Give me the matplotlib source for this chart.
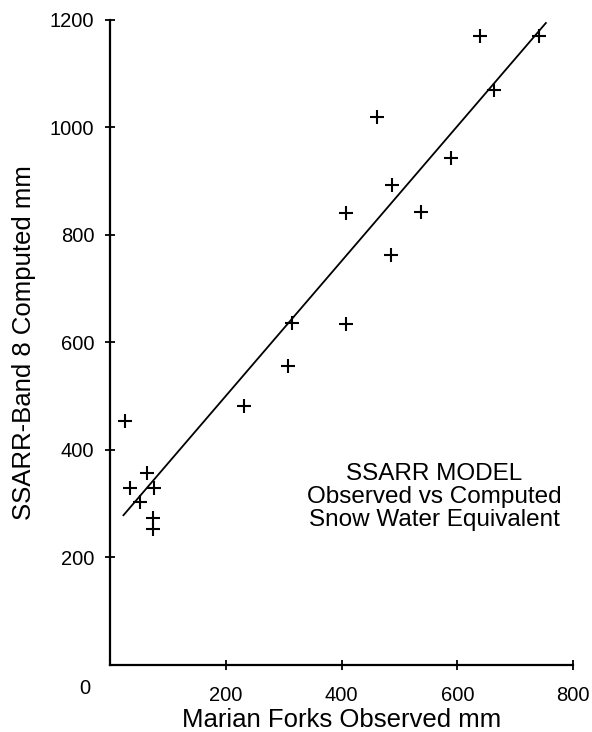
import matplotlib.pyplot as plt
import numpy as np

plt.rcParams['font.family'] = ['Liberation Sans', 'DejaVu Sans']

# observed (x) vs computed (y) snow water equivalent, mm
observed = [26, 35, 63, 51, 75, 74, 74, 232, 307, 315, 407, 407, 461, 487, 485, 537, 589, 639, 663, 742]
computed = [453, 328, 356, 303, 328, 272, 252, 481, 556, 635, 634, 840, 1019, 893, 762, 842, 942, 1170, 1070, 1170]

# fitted line end points
fit_x = [23, 753]
fit_y = [278, 1194]

x_ticks = [200, 400, 600, 800]
y_ticks = [200, 400, 600, 800, 1000, 1200]

fig = plt.figure(figsize=(5.92, 7.32), dpi=100)
ax = fig.add_axes([0.186, 0.092, 0.782, 0.881])

ax.plot(fit_x, fit_y, color='black', lw=1.3)
ax.plot(observed, computed, linestyle='none', marker='+', color='black', markersize=10, mew=1.5)

ax.set_xlim(0, 800)
ax.set_ylim(0, 1200)
ax.set_xticks(x_ticks)
ax.set_yticks(y_ticks)
ax.tick_params(direction='inout', length=7, width=1.3, labelsize=14.5, colors='black')
ax.tick_params(axis='x', pad=12)
ax.tick_params(axis='y', pad=8)
for s in ['top', 'right']:
    ax.spines[s].set_visible(False)
for s in ['left', 'bottom']:
    ax.spines[s].set_linewidth(1.6)

# shared origin label
ax.text(-43, -44, '0', fontsize=14.5, ha='center', va='center')

ax.set_xlabel('Marian Forks Observed mm', fontsize=18.5, labelpad=2)
ax.set_ylabel('SSARR-Band 8 Computed mm', fontsize=18.5, labelpad=10)

ax.text(560, 312, 'SSARR MODEL\nObserved vs Computed\nSnow Water Equivalent',
        fontsize=17.5, ha='center', va='center', linespacing=1.07)

plt.savefig('out.png', dpi=100)
